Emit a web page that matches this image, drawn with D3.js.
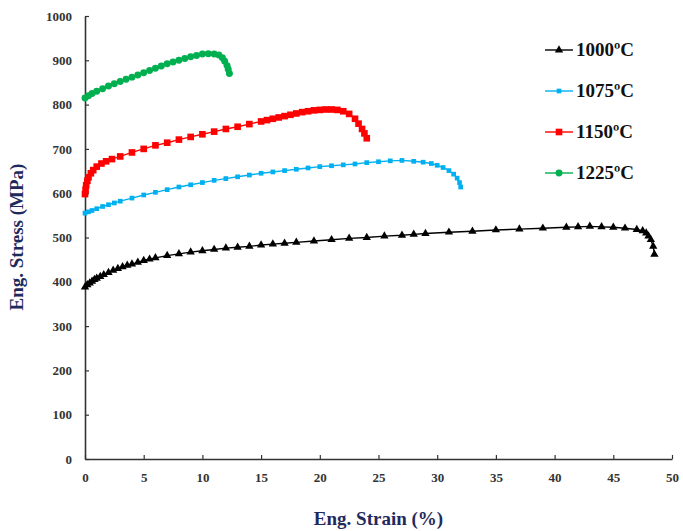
<!DOCTYPE html>
<html>
<head>
<meta charset="utf-8">
<script src="https://cdn.jsdelivr.net/npm/d3@7"></script>
<style>
  body { margin: 0; background: #fff; }
  svg { display: block; }
</style>
</head>
<body>
<svg></svg>
<script>
// strain (%) / stress (MPa)
let strain1000 = [0,0.2,0.4,0.6,0.8,1,1.3,1.6,2,2.4,2.8,3.2,3.6,4,4.5,5,5.5,6,7,8,9,10,11,12,13,14,15,16,17,18,19.5,21,22.5,24,25.5,27,28,29,31,33,35,37,39,41,42,43,44,45,46,47,47.5,47.8,48,48.2,48.4,48.5]
let stress1000 = [388,393,397,401,405,408,412,416,421,426,430,434,437,440,444,448,451,454,459,463,467,470,473,476,478,480,483,485,487,489,492,495,498,500,503,505,507,509,512,514,517,519,521,523,524,525,524,523,521,518,515,510,503,495,480,462]

let strain1075 = [0,0.3,0.6,1,1.5,2,2.5,3,4,5,6,7,8,9,10,11,12,13,14,15,16,17,18,19,20,21,22,23,24,25,26,27,28,28.8,29.5,30,30.5,31,31.4,31.7,31.9,32]
let stress1075 = [555,558,561,565,570,574,578,582,589,596,602,608,614,619,624,629,633,637,641,645,648,651,654,657,660,662,664,666,669,671,673,674,672,670,667,663,658,651,643,634,624,614]

let strain1150 = [0,0.05,0.1,0.2,0.3,0.5,0.7,1,1.4,1.8,2.3,3,4,5,6,7,8,9,10,11,12,13,14,15,15.5,16,16.5,17,17.5,18,18.5,19,19.5,20,20.5,21,21.5,22,22.5,23,23.3,23.6,23.8,24]
let stress1150 = [598,608,618,628,636,645,652,660,667,672,677,683,692,700,708,714,721,727,733,739,745,750,756,762,765,768,771,774,777,780,783,785,787,788,789,789,788,785,779,768,757,745,735,724]

let strain1225 = [0,0.3,0.6,1,1.5,2,2.5,3,3.5,4,4.5,5,5.5,6,6.5,7,7.5,8,8.5,9,9.5,10,10.5,11,11.4,11.7,11.9,12.1,12.2,12.3]
let stress1225 = [815,820,825,830,836,842,847,852,857,862,867,872,877,882,887,892,896,900,904,908,911,914,915,914,912,906,898,888,880,870]

let seriesNames = ['1000\u00baC', '1075\u00baC', '1150\u00baC', '1225\u00baC']
let xTicks = [0,5,10,15,20,25,30,35,40,45,50]
let yTicks = [0,100,200,300,400,500,600,700,800,900,1000]

let width = 683
let height = 531
let plotLeft = 85
let plotRight = 672
let plotTop = 16
let plotBottom = 459

let font = "'Liberation Serif', 'Times New Roman', serif"

let series = [
    { name: seriesNames[0], x: strain1000, y: stress1000, color: '#000000', shape: d3.symbolTriangle, size: 30 },
    { name: seriesNames[1], x: strain1075, y: stress1075, color: '#00b0f0', shape: d3.symbolSquare, size: 22 },
    { name: seriesNames[2], x: strain1150, y: stress1150, color: '#ff0000', shape: d3.symbolSquare, size: 44 },
    { name: seriesNames[3], x: strain1225, y: stress1225, color: '#00b050', shape: d3.symbolCircle, size: 38 }
]

let svg = d3.select('svg')
    .attr('width', width)
    .attr('height', height)

let xScale = d3.scaleLinear().domain([0, 50]).range([plotLeft, plotRight])
let yScale = d3.scaleLinear().domain([0, 1000]).range([plotBottom, plotTop])

let xAxis = d3.axisBottom(xScale)
    .tickValues(xTicks)
    .tickFormat(d3.format('d'))
    .tickSizeInner(-4)
    .tickSizeOuter(0)
    .tickPadding(14)
let yAxis = d3.axisLeft(yScale)
    .tickValues(yTicks)
    .tickFormat(d3.format('d'))
    .tickSizeInner(-4)
    .tickSizeOuter(0)
    .tickPadding(13)

let gx = svg.append('g')
    .attr('transform', 'translate(0,' + plotBottom + ')')
    .call(xAxis)
let gy = svg.append('g')
    .attr('transform', 'translate(' + plotLeft + ',0)')
    .call(yAxis)

;[gx, gy].forEach(g => {
    g.attr('font-family', font)
    g.select('.domain').attr('stroke', '#333').attr('stroke-width', 1.6)
    g.selectAll('.tick line').attr('stroke', '#333').attr('stroke-width', 1.2)
    g.selectAll('.tick text')
        .attr('fill', '#333')
        .style('font-family', font)
        .style('font-weight', 'bold')
        .style('font-size', '13px')
})

// axis titles
svg.append('text')
    .attr('x', (plotLeft + plotRight) / 2)
    .attr('y', 525)
    .attr('text-anchor', 'middle')
    .attr('fill', '#1f2a5c')
    .style('font-family', font)
    .style('font-weight', 'bold')
    .style('font-size', '19px')
    .text('Eng. Strain (%)')

svg.append('text')
    .attr('transform', 'translate(23,' + 237 + ') rotate(-90)')
    .attr('text-anchor', 'middle')
    .attr('fill', '#1f2a5c')
    .style('font-family', font)
    .style('font-weight', 'bold')
    .style('font-size', '19px')
    .text('Eng. Stress (MPa)')

let line = d3.line()
    .x(d => xScale(d[0]))
    .y(d => yScale(d[1]))

series.forEach(s => {
    let pts = s.x.map((v, i) => [v, s.y[i]])
    svg.append('path')
        .datum(pts)
        .attr('d', line)
        .attr('fill', 'none')
        .attr('stroke', s.color)
        .attr('stroke-width', 1.4)
    svg.append('g')
        .selectAll('path')
        .data(pts)
        .enter()
        .append('path')
        .attr('transform', d => 'translate(' + xScale(d[0]) + ',' + yScale(d[1]) + ')')
        .attr('d', d3.symbol().type(s.shape).size(s.size))
        .attr('fill', s.color)
})

// legend
let legend = svg.append('g')
    .selectAll('g')
    .data(series)
    .enter()
    .append('g')
    .attr('transform', (d, i) => 'translate(545,' + (50 + i * 41) + ')')

legend.append('line')
    .attr('x1', 0)
    .attr('x2', 28)
    .attr('stroke', d => d.color)
    .attr('stroke-width', 1.4)
legend.append('path')
    .attr('transform', 'translate(14,0)')
    .attr('d', d => d3.symbol().type(d.shape).size(d.size)())
    .attr('fill', d => d.color)
legend.append('text')
    .attr('x', 31)
    .attr('y', 6)
    .attr('fill', '#111')
    .style('font-family', font)
    .style('font-weight', 'bold')
    .style('font-size', '19px')
    .text(d => d.name)
</script>
</body>
</html>
